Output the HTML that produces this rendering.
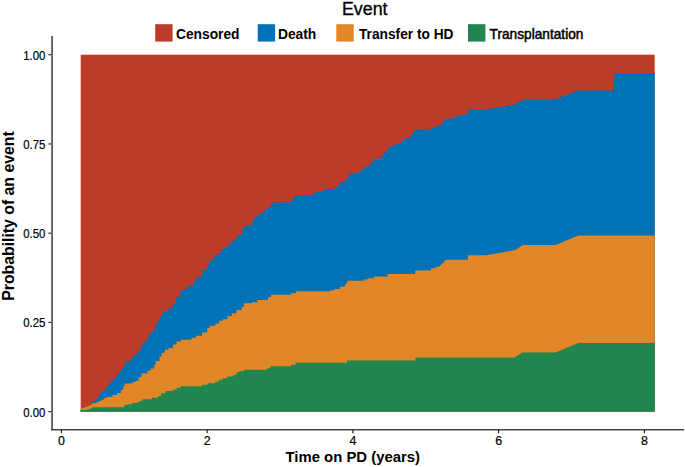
<!DOCTYPE html>
<html><head><meta charset="utf-8"><style>
html,body{margin:0;padding:0;background:#fff;}
svg{display:block;}
text{font-family:"Liberation Sans",sans-serif;fill:#000;}
.tk{font-size:11.2px;stroke:#000;stroke-width:0.2px;}
.ax{font-size:14.6px;font-weight:bold;}
.ev{font-size:17.2px;stroke:#000;stroke-width:0.3px;}
.lg{font-size:13.5px;font-weight:bold;}
.lgr{font-size:13.5px;stroke:#000;stroke-width:0.5px;}
</style></head><body>
<svg width="685" height="467" viewBox="0 0 685 467">
<rect x="80.7" y="54.7" width="574.0" height="357.0" fill="#BC3C29"/>
<polygon points="80.7,411.7 80.7,409.0 83.0,408.3 86.0,407.1 88.0,406.4 90.0,405.2 90.6,404.7 92.0,402.4 93.0,401.2 95.8,401.2 95.8,400.0 97.2,400.0 97.2,398.1 98.1,398.1 98.1,395.8 99.6,395.8 99.6,393.4 101.0,393.4 101.0,391.6 105.4,391.6 105.4,387.8 107.8,387.8 107.8,384.7 110.0,384.7 110.0,381.6 113.1,381.6 113.1,378.5 116.2,378.5 116.2,374.7 119.3,374.7 119.3,371.6 121.6,371.6 121.6,367.8 124.7,367.8 124.7,361.6 130.9,361.6 130.9,357.7 133.2,357.7 133.2,354.6 137.8,354.6 137.8,350.8 140.9,350.8 140.9,345.0 143.2,345.0 143.2,342.0 146.3,342.0 146.3,339.2 148.5,339.2 148.5,334.2 152.0,334.2 152.0,330.2 155.3,330.2 155.3,324.6 157.7,324.6 157.7,320.6 160.0,320.6 160.0,316.6 162.5,316.6 162.5,312.1 168.1,312.1 168.1,308.5 172.9,308.5 172.9,302.9 176.1,302.9 176.1,297.3 180.1,297.3 180.1,290.9 182.6,290.9 182.6,289.3 187.4,289.3 187.4,286.1 193.0,286.1 193.0,281.2 196.2,281.2 196.2,277.2 201.8,277.2 201.8,273.0 202.7,273.0 202.7,270.1 207.3,270.1 207.3,264.6 210.0,264.6 210.0,260.1 214.6,260.1 214.6,254.6 220.0,254.6 220.0,251.0 222.8,251.0 222.8,247.9 228.2,247.9 228.2,243.7 232.8,243.7 232.8,239.1 237.3,239.1 237.3,235.1 241.9,235.1 241.9,229.1 244.6,229.1 244.6,225.5 251.9,225.5 251.9,220.9 254.6,220.9 254.6,216.4 259.2,216.4 259.2,212.8 264.6,212.8 264.6,209.1 268.3,209.1 268.3,207.3 271.0,207.3 271.0,203.1 291.0,201.9 296.1,195.1 296.1,195.1 310.7,195.1 317.0,192.0 324.4,190.8 324.4,189.1 334.7,189.1 334.7,186.8 339.0,186.8 339.0,182.2 345.0,182.2 345.0,178.8 348.4,178.8 348.4,174.2 360.3,172.5 360.3,170.2 363.8,170.2 363.8,166.8 369.8,166.8 369.8,161.7 374.0,161.7 374.0,158.8 380.9,158.8 380.9,156.0 383.5,156.0 383.5,153.2 385.2,153.2 385.2,151.0 388.2,151.0 388.2,146.8 392.7,146.8 392.7,145.3 395.7,145.3 395.7,143.9 401.0,143.9 401.0,140.5 404.0,140.5 404.0,138.2 409.5,138.2 415.2,129.7 415.2,129.7 431.0,129.7 431.0,127.7 435.5,127.7 435.5,125.9 440.0,125.9 446.0,118.4 446.0,118.4 455.7,118.4 455.7,115.7 462.5,115.7 462.5,114.2 467.7,114.2 467.7,109.5 485.2,109.5 515.1,104.6 523.2,99.6 523.2,99.6 554.6,99.6 578.2,90.6 578.2,90.6 613.8,90.6 614.6,72.9 654.7,72.9 654.7,411.7" fill="#0072B5"/>
<polygon points="80.7,411.7 80.7,409.0 83.0,408.3 86.0,407.1 88.0,406.4 90.0,405.2 91.5,404.5 92.5,403.3 96.3,403.3 96.3,402.4 97.7,402.4 97.7,401.4 100.0,401.4 100.0,400.5 102.4,400.5 102.4,399.5 104.3,399.5 104.3,398.0 106.8,398.0 106.8,396.9 112.4,396.9 112.4,395.0 117.0,395.0 117.0,393.0 120.9,393.0 120.9,390.0 123.2,390.0 123.2,386.5 124.5,386.5 124.5,383.4 132.2,383.4 132.2,382.2 135.2,382.2 135.2,381.0 138.5,381.0 138.5,377.0 141.5,377.0 141.5,373.5 147.5,373.5 147.5,370.7 150.5,370.7 150.5,368.5 154.2,368.5 154.2,364.7 155.7,364.7 155.7,361.0 159.5,361.0 159.5,356.5 161.7,356.5 161.7,352.7 164.7,352.7 164.7,349.7 168.5,349.7 168.5,348.0 173.0,348.0 173.0,344.5 176.5,344.5 176.5,341.5 181.0,341.5 181.0,339.7 191.5,339.7 191.5,337.7 196.0,337.7 196.0,335.8 202.0,335.8 202.0,332.5 207.2,332.5 207.2,328.0 209.5,328.0 209.5,325.7 215.5,325.7 215.5,323.5 219.2,323.5 219.2,320.8 223.0,320.8 223.0,319.3 227.5,319.3 227.5,316.0 232.0,316.0 232.0,313.3 236.5,313.3 236.5,310.0 241.7,310.0 241.7,307.0 244.0,307.0 244.0,303.2 252.2,303.2 252.2,302.2 257.5,302.2 257.5,300.0 268.0,300.0 268.0,297.2 271.0,297.2 271.0,294.8 291.0,294.8 291.0,293.2 296.2,293.2 296.2,291.2 330.7,291.2 330.7,290.2 334.5,290.2 334.5,289.0 339.7,289.0 339.7,286.7 344.2,286.7 348.0,280.7 348.0,280.7 364.5,280.7 364.5,279.2 368.0,279.2 368.0,278.3 374.0,278.3 374.0,276.5 387.5,276.5 387.5,274.0 415.2,274.0 415.2,270.5 431.0,270.5 431.0,268.2 435.5,268.2 435.5,266.7 439.2,266.7 446.0,259.7 446.0,259.7 467.9,259.7 467.9,255.3 486.3,255.3 515.2,250.0 523.0,245.1 523.0,245.1 555.5,245.1 578.5,235.6 578.5,235.6 654.7,235.6 654.7,411.7" fill="#E18727"/>
<polygon points="80.7,411.7 80.7,410.1 85.0,409.9 88.0,409.5 90.0,409.0 91.5,408.0 92.3,407.2 124.5,407.2 124.5,404.8 128.1,404.8 128.1,404.2 132.2,404.2 132.2,403.0 137.3,403.0 137.3,401.8 140.3,401.8 140.3,400.7 142.4,400.7 142.4,399.3 152.0,399.3 152.0,397.7 158.0,397.7 158.0,396.2 161.0,396.2 161.0,393.2 165.5,393.2 165.5,391.0 173.0,391.0 173.0,389.5 176.7,389.5 176.7,387.7 180.5,387.7 180.5,386.2 202.0,386.2 202.0,384.7 207.5,384.7 207.5,383.2 215.0,383.2 215.0,381.7 218.7,381.7 218.7,379.7 222.5,379.7 222.5,378.2 227.0,378.2 227.0,376.4 233.0,376.4 233.0,375.2 235.5,375.2 235.5,374.2 236.8,374.2 236.8,372.2 239.5,372.2 239.5,371.2 244.0,371.2 244.0,369.7 267.2,369.7 267.2,368.2 270.2,368.2 270.2,366.2 291.2,366.2 291.2,364.7 295.7,364.7 295.7,362.8 347.0,362.8 347.0,360.4 415.4,360.4 415.4,357.6 514.8,357.6 522.4,352.6 522.4,352.6 555.6,352.6 578.3,343.1 578.3,343.1 654.7,343.1 654.7,411.7" fill="#20854E"/>
<rect x="51" y="36" width="1" height="394" fill="#7a7a7a"/>
<rect x="52" y="36" width="1" height="394" fill="#5c5c5c"/>
<rect x="51" y="429" width="633" height="1" fill="#404040"/>
<rect x="51" y="430" width="633" height="1" fill="#a8a8a8"/>
<line x1="48.4" y1="411.70" x2="51" y2="411.70" stroke="#1a1a1a" stroke-width="1.15"/>
<text x="45.4" y="416.70" class="tk" style="font-size:12.4px" text-anchor="end" textLength="22.2" lengthAdjust="spacingAndGlyphs">0.00</text>
<line x1="48.4" y1="322.45" x2="51" y2="322.45" stroke="#1a1a1a" stroke-width="1.15"/>
<text x="45.4" y="327.45" class="tk" style="font-size:12.4px" text-anchor="end" textLength="22.2" lengthAdjust="spacingAndGlyphs">0.25</text>
<line x1="48.4" y1="233.20" x2="51" y2="233.20" stroke="#1a1a1a" stroke-width="1.15"/>
<text x="45.4" y="238.20" class="tk" style="font-size:12.4px" text-anchor="end" textLength="22.2" lengthAdjust="spacingAndGlyphs">0.50</text>
<line x1="48.4" y1="143.95" x2="51" y2="143.95" stroke="#1a1a1a" stroke-width="1.15"/>
<text x="45.4" y="148.95" class="tk" style="font-size:12.4px" text-anchor="end" textLength="22.2" lengthAdjust="spacingAndGlyphs">0.75</text>
<line x1="48.4" y1="54.70" x2="51" y2="54.70" stroke="#1a1a1a" stroke-width="1.15"/>
<text x="45.4" y="59.70" class="tk" style="font-size:12.4px" text-anchor="end" textLength="22.2" lengthAdjust="spacingAndGlyphs">1.00</text>
<line x1="61.40" y1="430" x2="61.40" y2="433.3" stroke="#1a1a1a" stroke-width="1.15"/>
<text x="61.40" y="444.8" class="tk" style="font-size:12.4px" text-anchor="middle">0</text>
<line x1="207.15" y1="430" x2="207.15" y2="433.3" stroke="#1a1a1a" stroke-width="1.15"/>
<text x="207.15" y="444.8" class="tk" style="font-size:12.4px" text-anchor="middle">2</text>
<line x1="352.90" y1="430" x2="352.90" y2="433.3" stroke="#1a1a1a" stroke-width="1.15"/>
<text x="352.90" y="444.8" class="tk" style="font-size:12.4px" text-anchor="middle">4</text>
<line x1="498.65" y1="430" x2="498.65" y2="433.3" stroke="#1a1a1a" stroke-width="1.15"/>
<text x="498.65" y="444.8" class="tk" style="font-size:12.4px" text-anchor="middle">6</text>
<line x1="644.40" y1="430" x2="644.40" y2="433.3" stroke="#1a1a1a" stroke-width="1.15"/>
<text x="644.40" y="444.8" class="tk" style="font-size:12.4px" text-anchor="middle">8</text>
<text x="285.5" y="462.3" class="ax" style="font-size:15.2px" textLength="134.5" lengthAdjust="spacingAndGlyphs" >Time on PD (years)</text>
<text transform="translate(14.0,300.8) rotate(-90)" x="0" y="0" class="ax" style="font-size:15.8px" textLength="169.5" lengthAdjust="spacingAndGlyphs">Probability of an event</text>
<text x="342.0" y="14.5" class="ev" style="font-size:17.5px" textLength="45.5" lengthAdjust="spacingAndGlyphs" >Event</text>
<rect x="155.2" y="24.2" width="17.4" height="17.4" fill="#BC3C29"/>
<text x="176.0" y="38.6" class="lg" style="font-size:13.8px" textLength="63.5" lengthAdjust="spacingAndGlyphs" >Censored</text>
<rect x="257.7" y="24.2" width="17.4" height="17.4" fill="#0072B5"/>
<text x="278.0" y="38.6" class="lg" style="font-size:13.8px" textLength="38.3" lengthAdjust="spacingAndGlyphs" >Death</text>
<rect x="336.3" y="24.2" width="17.4" height="17.4" fill="#E18727"/>
<text x="359.0" y="38.6" class="lg" style="font-size:13.8px" textLength="94.5" lengthAdjust="spacingAndGlyphs" >Transfer to HD</text>
<rect x="468.0" y="24.2" width="17.4" height="17.4" fill="#20854E"/>
<text x="489.6" y="38.6" class="lgr" style="font-size:14.2px" textLength="93.8" lengthAdjust="spacingAndGlyphs" >Transplantation</text>
</svg>
</body></html>
